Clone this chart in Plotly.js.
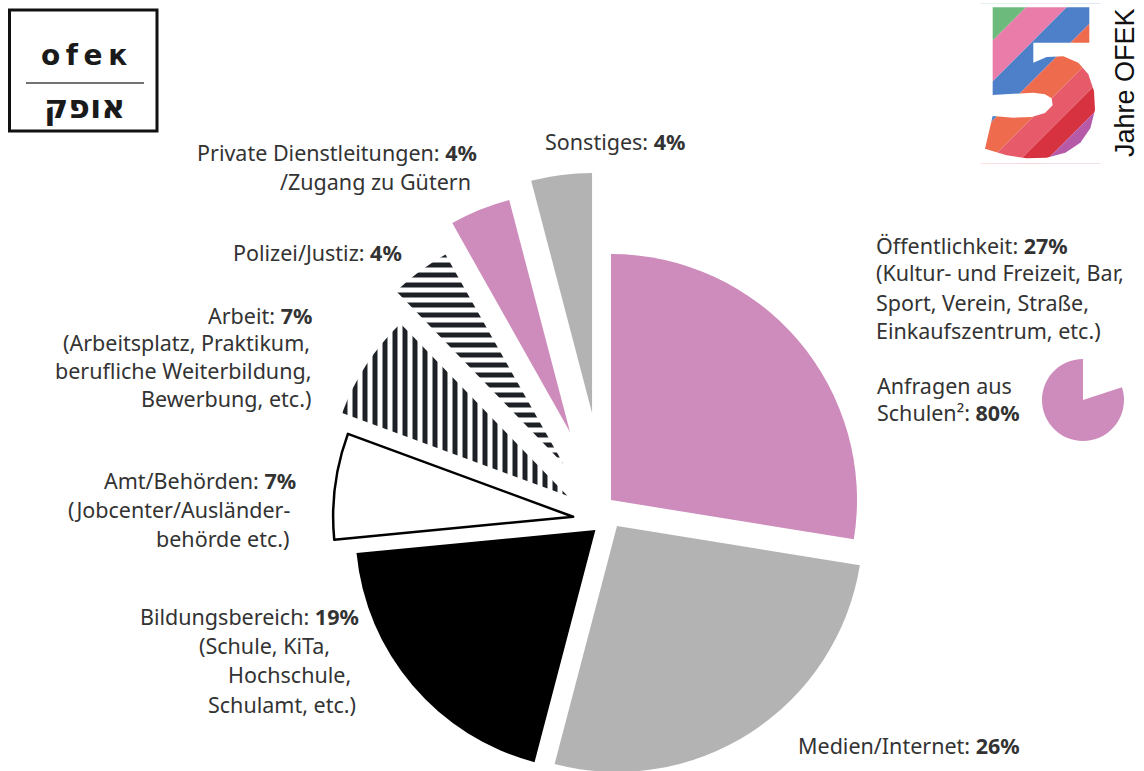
<!DOCTYPE html>
<html><head><meta charset="utf-8">
<script src="https://cdn.plot.ly/plotly-3.0.1.min.js"></script>
<style>
html,body{margin:0;padding:0;overflow:hidden;background:#fff}
#wrap{width:1144px;height:771px;overflow:hidden;position:relative}
#chart{width:1144px;height:1040px}
</style>
</head><body><div id="wrap"><div id="chart"></div></div>
<script>
// ---------- data ----------
const categories = ["Öffentlichkeit","Medien/Internet","Bildungsbereich","Amt/Behörden","Arbeit","Polizei/Justiz","Private Dienstleitungen/Zugang zu Gütern","Sonstiges"];
const shares = [27, 26, 19, 7, 7, 4, 4, 4];
const schoolLabels = ["andere Anfragen", "Anfragen aus Schulen"];
const schoolShares = [20, 80];

// ---------- styles ----------
const PINK = "#cd8cbb", GRAY = "#b3b3b3", INK = "#1d2125", NONE = "rgba(0,0,0,0)";
const sliceColors = [PINK, GRAY, "#000000", "#ffffff", "#ffffff", "#ffffff", PINK, GRAY];
const slicePatterns = ["", "", "", "", "|", "-", "", ""];
const sliceLineWidths = [0, 0, 0, 2.5, 0, 0, 0, 0];
// the exploded slices sit around two slightly different centres (as in the original graphic)
const sliceGroup = [0, 0, 1, 1, 1, 1, 1, 1];
const pulls = [0.0374, 0.097, 0.058, 0.138, 0.192, 0.298, 0.399, 0.454];
const groupGeom = [{cx: 604, cy: 506, r: 246}, {cx: 606, cy: 521, r: 240}];

const W = 1144, H = 1040;
const X = px => px / W, Y = py => 1 - py / H;

const traces = groupGeom.map((g, gi) => {
  const on = sliceGroup.map(s => s === gi);
  const pl = pulls.map((p, i) => on[i] ? p : 0);
  const half = g.r * (1 + Math.max(...pl));
  return {
    type: "pie", labels: categories, values: shares, sort: false, direction: "clockwise", rotation: 0,
    pull: pl, textinfo: "none", hoverinfo: "label+percent", showlegend: false,
    marker: {
      colors: sliceColors.map((c, i) => on[i] ? c : NONE),
      line: {color: "#000", width: sliceLineWidths.map((w, i) => on[i] ? w : 0)},
      pattern: {shape: slicePatterns.map((s, i) => on[i] ? s : ""), fgcolor: INK, bgcolor: sliceColors.map((c, i) => on[i] ? c : NONE), size: 10, solidity: 0.5}
    },
    domain: {x: [X(g.cx - half), X(g.cx + half)], y: [Y(g.cy + half), Y(g.cy - half)]}
  };
});

// small pie: requests from schools
const scx = 1083, scy = 400, sr = 41;
traces.push({
  type: "pie", labels: schoolLabels, values: schoolShares, sort: false, direction: "clockwise", rotation: 0,
  textinfo: "none", hoverinfo: "label+percent", showlegend: false,
  marker: {colors: [NONE, PINK], line: {width: 0}},
  domain: {x: [X(scx - sr), X(scx + sr)], y: [Y(scy + sr), Y(scy - sr)]}
});

// ---------- labels ----------
const FONT = {family: "Noto Sans, Open Sans, sans-serif", size: 21.5, color: "#333333"};
const annotations = [];
function lab(text, px, py, anchor, font) {
  annotations.push({text, x: X(px), y: Y(py), xref: "paper", yref: "paper", xanchor: anchor, yanchor: "middle",
    showarrow: false, font: font || FONT});
}
lab("Öffentlichkeit: <b>27%</b>", 874, 245, "left");
lab("(Kultur- und Freizeit, Bar,", 874, 273, "left");
lab("Sport, Verein, Straße,", 874, 302, "left");
lab("Einkaufszentrum, etc.)", 874, 330, "left");
lab("Anfragen aus", 875, 385, "left");
lab("Schulen²: <b>80%</b>", 875, 413, "left");
lab("Medien/Internet: <b>26%</b>", 796, 745, "left");
lab("Sonstiges: <b>4%</b>", 543, 142, "left");
lab("Private Dienstleitungen: <b>4%</b>", 479, 152, "right");
lab("/Zugang zu Gütern", 473, 181, "right");
lab("Polizei/Justiz: <b>4%</b>", 404, 252, "right");
lab("Arbeit: <b>7%</b>", 314, 315, "right");
lab("(Arbeitsplatz, Praktikum,", 312, 343, "right");
lab("berufliche Weiterbildung,", 313, 370, "right");
lab("Bewerbung, etc.)", 313, 398, "right");
lab("Amt/Behörden: <b>7%</b>", 298, 480, "right");
lab("(Jobcenter/Ausländer-", 292, 509, "right");
lab("behörde etc.)", 291, 538, "right");
lab("Bildungsbereich: <b>19%</b>", 361, 616, "right");
lab("(Schule, KiTa,", 332, 645, "right");
lab("Hochschule,", 353, 674, "right");
lab("Schulamt, etc.)", 358, 704, "right");

// logos
lab("<b>o\u2009f\u2009e\u2009к</b>", 84, 55, "center", {family: "DejaVu Sans, sans-serif", size: 28, color: "#1a1a1a"});
lab("<b>אופק</b>", 84, 107, "center", {family: "DejaVu Sans, sans-serif", size: 33, color: "#1a1a1a"});
annotations.push({text: "Jahre OFEK", x: X(1125), y: Y(83), xref: "paper", yref: "paper", xanchor: "center", yanchor: "middle",
  textangle: -90, showarrow: false, font: {family: "Liberation Sans, Arial, sans-serif", size: 27, color: "#111"}});

const shapes = [
  {type: "rect", xref: "paper", yref: "paper", x0: X(9.5), x1: X(157), y0: Y(10), y1: Y(131), line: {color: "#111", width: 3}},
  {type: "line", xref: "paper", yref: "paper", x0: X(26), x1: X(144), y0: Y(83), y1: Y(83), line: {color: "#444", width: 1.5}}
];

// "5" logo: diagonal colour bands, masked by the outline of the digit
const five = [[68,22],[358,22],[358,128],[190,128],[190,188],[230,171],[280,169],[325,188],[355,223],[372,273],[375,330],[361,385],[331,428],[286,458],[230,473],[170,475],[110,466],[45,446],[68,348],[130,353],[185,351],[225,339],[248,316],[245,295],[225,283],[190,278],[68,285]];
const bands = [[-1e4,190,"#6dbb7c"],[190,312,"#e97ca9"],[312,430,"#4d80c9"],[430,540,"#ee6b4d"],[540,630,"#e65a6a"],[630,710,"#d7323f"],[710,1e4,"#b65aa8"]];
const box = [[30,10],[390,10],[390,490],[30,490]];
function clipHalf(poly, a, b, c) {
  const out = [];
  for (let i = 0; i < poly.length; i++) {
    const P = poly[i], Q = poly[(i + 1) % poly.length];
    const fp = a*P[0] + b*P[1] - c, fq = a*Q[0] + b*Q[1] - c;
    if (fp <= 0) out.push(P);
    if ((fp < 0 && fq > 0) || (fp > 0 && fq < 0)) {
      const t = fp / (fp - fq);
      out.push([P[0] + t*(Q[0]-P[0]), P[1] + t*(Q[1]-P[1])]);
    }
  }
  return out;
}
const toPath = p => "M" + p.map(q => X(970 + q[0]/3).toFixed(5) + "," + Y(q[1]/3).toFixed(5)).join("L") + "Z";
bands.forEach(([lo, hi, col]) => {
  let p = clipHalf(box, 1, 1, hi);
  p = clipHalf(p, -1, -1, -lo);
  if (p.length < 3) return;
  shapes.push({type: "path", xref: "paper", yref: "paper", path: toPath(p), fillcolor: col, line: {width: 0}});
});
shapes.push({type: "path", xref: "paper", yref: "paper", path: toPath(box) + toPath(five), fillrule: "evenodd",
  fillcolor: "#ffffff", line: {width: 0}});

Plotly.newPlot("chart", traces, {
  width: W, height: H, margin: {l: 0, r: 0, t: 0, b: 0},
  paper_bgcolor: "#fff", plot_bgcolor: "#fff",
  annotations, shapes
}, {displayModeBar: false, staticPlot: true});
</script>
</body></html>
